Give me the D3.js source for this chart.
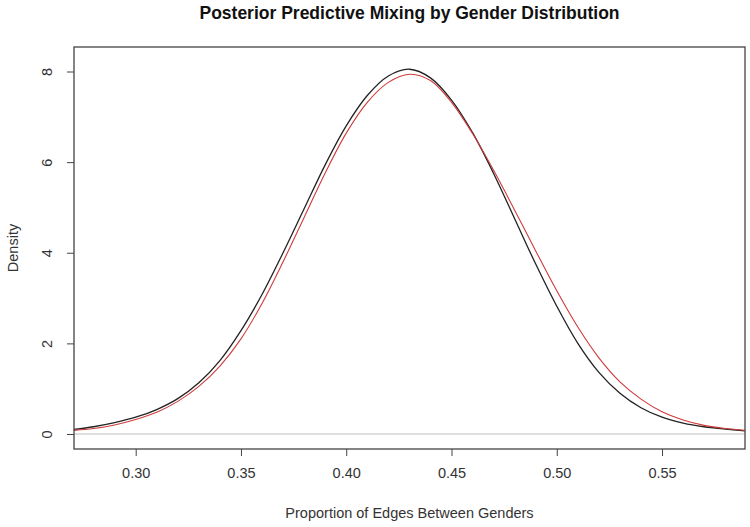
<!DOCTYPE html>
<html><head><meta charset="utf-8">
<script src="https://cdn.jsdelivr.net/npm/d3@7"></script>
<style>body{margin:0;background:#fff}svg{display:block;font-family:"Liberation Sans",Arial,sans-serif}</style>
</head><body><svg id="c" width="750" height="527"></svg>
<script>
const xGrid = [0.2707,0.28,0.29,0.30,0.31,0.32,0.33,0.34,0.35,0.36,0.37,0.38,0.39,0.40,0.41,0.42,0.43,0.44,0.45,0.46,0.47,0.48,0.49,0.50,0.51,0.52,0.53,0.54,0.55,0.56,0.57,0.58,0.5894];
const blackDensity = [0.10,0.16,0.25,0.37,0.54,0.78,1.13,1.62,2.28,3.08,4.00,4.97,5.94,6.80,7.47,7.90,8.05,7.86,7.37,6.65,5.75,4.75,3.75,2.82,2.00,1.36,0.90,0.58,0.37,0.24,0.16,0.11,0.07];
const redDensity = [0.08,0.12,0.20,0.32,0.48,0.72,1.05,1.50,2.10,2.88,3.80,4.78,5.76,6.64,7.32,7.76,7.94,7.80,7.32,6.63,5.82,4.94,4.04,3.16,2.36,1.68,1.15,0.77,0.49,0.31,0.19,0.12,0.08];
const xTicks = [0.30,0.35,0.40,0.45,0.50,0.55];
const yTicks = [0,2,4,6,8];
const title = "Posterior Predictive Mixing by Gender Distribution";
const xTitle = "Proportion of Edges Between Genders";
const yTitle = "Density";

const svg = d3.select("#c");
const L=74, R=745, T=47, B=449;
const FS = 14.5;
const x = d3.scaleLinear().domain([0.2707,0.5894]).range([L,R]);
const y = d3.scaleLinear().domain([0,8]).range([434,71.5]);

svg.append("defs").append("clipPath").attr("id","clip").append("rect")
  .attr("x",L).attr("y",T).attr("width",R-L).attr("height",B-T);

// zero reference line
svg.append("line").attr("x1",L).attr("x2",R).attr("y1",y(0)).attr("y2",y(0))
  .attr("stroke","#bdbdbd").attr("stroke-width",1.2);

const line = d3.line().x((d,i)=>x(xGrid[i])).y(d=>y(d)).curve(d3.curveCatmullRom);
const g = svg.append("g").attr("clip-path","url(#clip)");
g.append("path").datum(blackDensity).attr("d",line).attr("fill","none").attr("stroke","#222").attr("stroke-width",1.3);
g.append("path").datum(redDensity).attr("d",line).attr("fill","none").attr("stroke","#d03b3b").attr("stroke-width",1.1);

// box
svg.append("rect").attr("x",L).attr("y",T).attr("width",R-L).attr("height",B-T)
  .attr("fill","none").attr("stroke","#444").attr("stroke-width",1.3);

// x axis
const xa = svg.append("g").attr("transform",`translate(0,${B})`)
  .call(d3.axisBottom(x).tickValues(xTicks).tickFormat(d3.format(".2f")).tickSizeOuter(0).tickSize(7).tickPadding(12));
xa.select(".domain").remove();
xa.selectAll("line").attr("stroke","#444");
xa.selectAll("text").attr("font-size",FS).attr("fill","#333").attr("font-family","Liberation Sans, Arial, sans-serif");

// y axis
const ya = svg.append("g").attr("transform",`translate(${L},0)`)
  .call(d3.axisLeft(y).tickValues(yTicks).tickSizeOuter(0).tickSize(7).tickFormat(d3.format("d")));
ya.select(".domain").remove();
ya.selectAll("line").attr("stroke","#444");
ya.selectAll("text").attr("font-size",FS).attr("fill","#333").attr("font-family","Liberation Sans, Arial, sans-serif")
  .attr("text-anchor","middle").attr("x",0).attr("dy",0)
  .attr("transform","translate(-27,0) rotate(-90)").attr("dominant-baseline","central");

svg.append("text").attr("x",(L+R)/2).attr("y",19).attr("text-anchor","middle")
  .attr("font-size",17.5).attr("font-weight","bold").attr("fill","#111").text(title);
svg.append("text").attr("x",(L+R)/2).attr("y",518).attr("text-anchor","middle")
  .attr("font-size",FS).attr("fill","#333").text(xTitle);
svg.append("text").attr("transform",`translate(18,${(T+B)/2}) rotate(-90)`).attr("text-anchor","middle")
  .attr("font-size",FS).attr("fill","#333").text(yTitle);
</script></body></html>
